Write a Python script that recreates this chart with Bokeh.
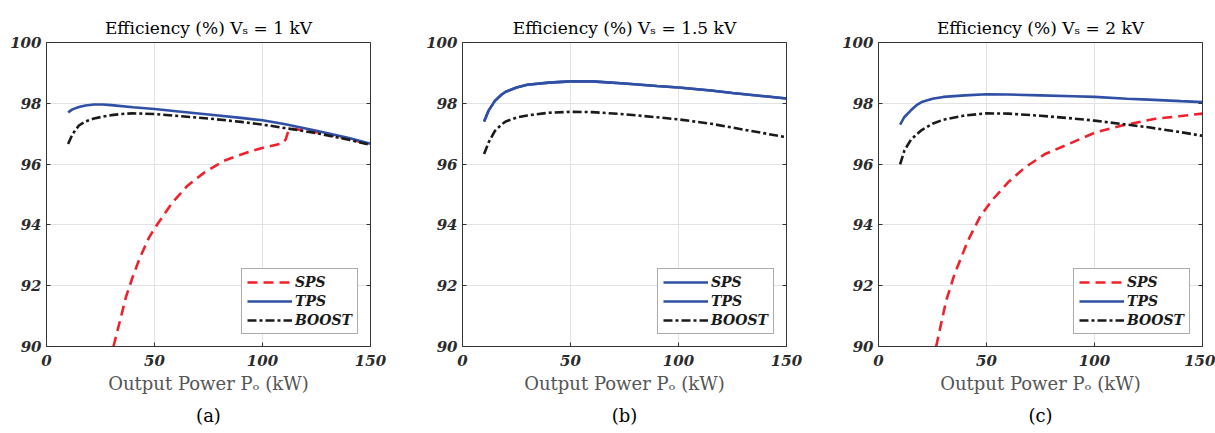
import numpy as np
from bokeh.plotting import figure
from bokeh.layouts import row
from bokeh.models import (LinearAxis, Range1d, Legend, LegendItem, Title,
                          FixedTicker)
from bokeh.embed import file_html
from bokeh.resources import INLINE

# ---------------- data ----------------
titles = ["Efficiency (%) Vₛ = 1 kV", "Efficiency (%) Vₛ = 1.5 kV",
          "Efficiency (%) Vₛ = 2 kV"]
sub_labels = ["(a)", "(b)", "(c)"]
x_label = "Output Power Pₒ (kW)"
x_ticks = [0, 50, 100, 150]
y_ticks = [90, 92, 94, 96, 98, 100]
series_names = ["SPS", "TPS", "BOOST"]

# (a) Vs = 1 kV
a_sps_p = [31.0, 34.4, 36.7, 39.8, 43.3, 47.5, 51.4, 58.3, 65.3, 73.0, 82.2,
           91.5, 100.7, 109.3, 110.8, 112.0, 114, 125, 137.5, 150]
a_sps_e = [90.0, 90.95, 91.61, 92.27, 92.93, 93.59, 94.03, 94.74, 95.29, 95.72,
           96.11, 96.35, 96.55, 96.68, 96.82, 97.1, 97.16, 97.05, 96.87, 96.64]
a_tps_p = [10, 12, 15, 18, 22, 26, 30, 40, 50, 60, 75, 90, 100, 110, 125, 140, 150]
a_tps_e = [97.70, 97.80, 97.88, 97.93, 97.96, 97.96, 97.94, 97.87, 97.81, 97.74,
           97.63, 97.52, 97.44, 97.32, 97.10, 96.86, 96.67]
a_boost_p = [10, 12, 15, 18, 22, 26, 30, 35, 40, 50, 60, 75, 90, 100, 110, 125,
             140, 150]
a_boost_e = [96.66, 96.98, 97.27, 97.40, 97.50, 97.56, 97.61, 97.65, 97.67, 97.65,
             97.59, 97.50, 97.39, 97.30, 97.19, 97.02, 96.80, 96.63]

# (b) Vs = 1.5 kV  (SPS coincides with TPS)
b_tps_p = [10, 12, 15, 18, 20, 25, 30, 40, 50, 60, 75, 90, 100, 115, 125, 140, 150]
b_tps_e = [97.40, 97.75, 98.08, 98.28, 98.38, 98.52, 98.61, 98.68, 98.72, 98.72,
           98.65, 98.57, 98.52, 98.42, 98.34, 98.23, 98.16]
b_sps_p = b_tps_p
b_sps_e = b_tps_e
b_boost_p = [10, 12, 15, 18, 20, 25, 30, 40, 50, 60, 75, 90, 100, 115, 125, 140, 150]
b_boost_e = [96.33, 96.70, 97.09, 97.30, 97.40, 97.53, 97.60, 97.69, 97.72, 97.71,
             97.64, 97.54, 97.47, 97.33, 97.20, 97.01, 96.88]

# (c) Vs = 2 kV
c_sps_p = [26.7, 31.3, 35.2, 41.4, 46.8, 52.3, 60.0, 67.8, 77.1, 88.0, 100.3,
           112.7, 128.2, 140, 150]
c_sps_e = [90.0, 91.5, 92.38, 93.48, 94.24, 94.79, 95.40, 95.89, 96.33, 96.66,
           97.04, 97.27, 97.49, 97.58, 97.66]
c_tps_p = [10, 12, 15, 18, 20, 25, 30, 40, 50, 60, 75, 90, 100, 115, 125, 140, 150]
c_tps_e = [97.30, 97.55, 97.77, 97.96, 98.04, 98.15, 98.21, 98.26, 98.30, 98.29,
           98.26, 98.23, 98.21, 98.15, 98.12, 98.07, 98.04]
c_boost_p = [10, 12, 15, 18, 20, 25, 30, 40, 50, 60, 75, 90, 100, 115, 125, 140, 150]
c_boost_e = [95.99, 96.45, 96.80, 97.00, 97.12, 97.33, 97.46, 97.60, 97.67, 97.66,
             97.59, 97.50, 97.43, 97.30, 97.21, 97.05, 96.93]

panels = [
    ((a_sps_p, a_sps_e), (a_tps_p, a_tps_e), (a_boost_p, a_boost_e)),
    ((b_sps_p, b_sps_e), (b_tps_p, b_tps_e), (b_boost_p, b_boost_e)),
    ((c_sps_p, c_sps_e), (c_tps_p, c_tps_e), (c_boost_p, c_boost_e)),
]

# ---------------- styles ----------------
RED = "#f0212a"
BLUE = "#3050a6"
BLACK = "#1a1a1a"
SERIF = "DejaVu Serif"
AX_COL = "#333333"

sps_styles = [dict(color=RED, dash="10 6"), dict(color=BLUE, dash="solid"),
              dict(color=RED, dash="10 6")]
tps_style = dict(color=BLUE, dash="solid")
boost_style = dict(color=BLACK, dash="9 3 3 3")

widths = [416, 416, 383]
right_borders = [46, 46, 13]
H = 433
TOP = 42
FRAME_H = 304


def style_axis(ax, show_labels=True):
    ax.axis_line_color = AX_COL
    ax.axis_line_width = 1
    ax.major_tick_line_color = AX_COL
    ax.major_tick_in = 4
    ax.major_tick_out = 0
    ax.minor_tick_line_color = None
    ax.major_label_text_font = SERIF
    ax.major_label_text_font_style = "bold italic"
    ax.major_label_text_font_size = "15px"
    ax.major_label_text_color = "#2b2b2b"
    if not show_labels:
        ax.major_label_overrides = {t: "" for t in (x_ticks + y_ticks)}
        ax.major_label_standoff = 0


figs = []
for i in range(3):
    p = figure(width=widths[i], height=H, x_range=Range1d(0, 150),
               y_range=Range1d(90, 100), output_backend="svg",
               toolbar_location=None, min_border_left=46,
               min_border_right=right_borders[i], min_border_top=TOP,
               min_border_bottom=H - TOP - FRAME_H)
    p.title.text = titles[i]
    p.title.text_font = SERIF
    p.title.text_font_style = "normal"
    p.title.text_font_size = "17px"
    p.title.text_color = "black"
    p.title.align = "center"
    p.title.standoff = 9

    p.outline_line_color = None
    p.xaxis.ticker = FixedTicker(ticks=x_ticks)
    p.yaxis.ticker = FixedTicker(ticks=y_ticks)
    p.xgrid.ticker = FixedTicker(ticks=x_ticks)
    p.ygrid.ticker = FixedTicker(ticks=y_ticks)
    p.grid.grid_line_color = "#e3e3e3"
    p.grid.grid_line_width = 1
    for ax in p.xaxis + p.yaxis:
        style_axis(ax)
    p.xaxis.major_label_standoff = 8
    p.yaxis.major_label_standoff = 5
    p.xaxis.axis_label = x_label
    p.xaxis.axis_label_text_font = SERIF
    p.xaxis.axis_label_text_font_style = "normal"
    p.xaxis.axis_label_text_font_size = "18px"
    p.xaxis.axis_label_text_color = "#555555"
    p.xaxis.axis_label_standoff = 4

    rax = LinearAxis(ticker=FixedTicker(ticks=y_ticks))
    style_axis(rax, show_labels=False)
    p.add_layout(rax, "right")
    tax = LinearAxis(ticker=FixedTicker(ticks=x_ticks))
    style_axis(tax, show_labels=False)
    tax.major_tick_in = 0
    p.add_layout(tax, "above")

    (sp, se), (tp, te), (bp, be) = panels[i]
    ss = sps_styles[i]
    r_sps = p.line(sp, se, line_color=ss["color"], line_dash=ss["dash"],
                   line_width=2.6)
    r_tps = p.line(tp, te, line_color=tps_style["color"],
                   line_dash=tps_style["dash"], line_width=2.6)
    r_boost = p.line(bp, be, line_color=boost_style["color"],
                     line_dash=boost_style["dash"], line_width=2.6)
    if i == 1:
        r_sps.level = "underlay"

    legend = Legend(items=[LegendItem(label=series_names[0], renderers=[r_sps]),
                           LegendItem(label=series_names[1], renderers=[r_tps]),
                           LegendItem(label=series_names[2], renderers=[r_boost])],
                    location="bottom_right")
    legend.margin = 12
    legend.padding = 5
    legend.spacing = 3
    legend.glyph_width = 45
    legend.glyph_height = 16
    legend.label_height = 16
    legend.label_standoff = 3
    legend.label_text_font = SERIF
    legend.label_text_font_style = "bold italic"
    legend.label_text_font_size = "14px"
    legend.label_text_color = "#1a1a1a"
    legend.border_line_color = "#555555"
    legend.border_line_width = 1
    legend.background_fill_color = "white"
    legend.background_fill_alpha = 1
    p.add_layout(legend)

    sub = Title(text=sub_labels[i], align="center", text_font=SERIF,
                text_font_style="normal", text_font_size="18px",
                text_color="black", standoff=13)
    p.add_layout(sub, "below")
    figs.append(p)

layout = row(*figs, spacing=0)
open("out.html", "w").write(file_html(layout, INLINE))
